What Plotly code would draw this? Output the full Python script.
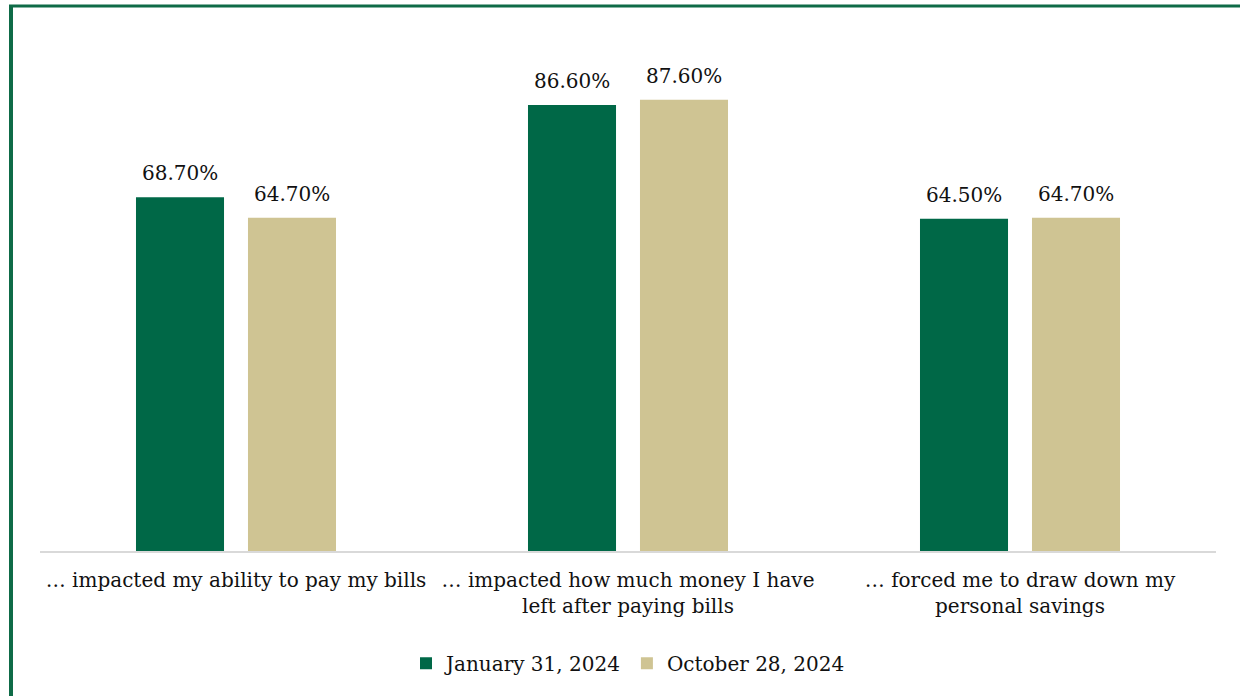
import plotly.graph_objects as go

categories = [
    "… impacted my ability to pay my bills",
    "… impacted how much money I have<br>left after paying bills",
    "… forced me to draw down my<br>personal savings",
]
series_names = ["January 31, 2024", "October 28, 2024"]
jan_values = [68.7, 86.6, 64.5]
oct_values = [64.7, 87.6, 64.7]

colors = ["#006847", "#CFC493"]
font_family = "DejaVu Serif, Liberation Serif, serif"

W, H = 1240, 696
ml, mr, mt, mb = 40, 24, 36, 145
pw, ph = W - ml - mr, H - mt - mb

fig = go.Figure()
series = [jan_values, oct_values]
for name, vals, col in zip(series_names, series, colors):
    fig.add_trace(go.Bar(
        x=categories, y=vals, name=name,
        marker=dict(color=col, line=dict(width=0)),
        cliponaxis=False,
    ))

# value labels above each bar (bars sit 56px either side of the category centre)
for i, vals in enumerate(series):
    shift = -56 if i == 0 else 56
    for cat, v in zip(categories, vals):
        fig.add_annotation(
            x=cat, y=v, text=f"{v:.2f}%", showarrow=False,
            xshift=shift, yshift=10, yanchor="bottom",
            font=dict(size=20, color="#111111", family=font_family),
        )

# frame lines along top and left edges of the page
def px_x(px):
    return (px - ml) / pw

def px_y(py):
    return (H - mb - py) / ph

fig.add_shape(type="line", xref="paper", yref="paper",
              x0=px_x(9), x1=px_x(1240), y0=px_y(6), y1=px_y(6),
              line=dict(color="#0E6B47", width=3))
fig.add_shape(type="line", xref="paper", yref="paper",
              x0=px_x(11), x1=px_x(11), y0=px_y(5), y1=px_y(700),
              line=dict(color="#0E6B47", width=4))

fig.update_layout(
    width=W, height=H,
    margin=dict(l=ml, r=mr, t=mt, b=mb),
    paper_bgcolor="white", plot_bgcolor="white",
    barmode="group", bargap=0.4286, bargroupgap=0.214,
    font=dict(family=font_family, size=20, color="#111111"),
    xaxis=dict(showline=True, linecolor="#d9d9d9", linewidth=2,
               ticks="", showgrid=False, tickfont=dict(size=20),
               ticklabelstandoff=10, fixedrange=True),
    yaxis=dict(range=[0, 100], visible=False, showgrid=False, fixedrange=True),
    legend=dict(orientation="h", x=0.5, xanchor="center", y=-0.18, yanchor="top",
                font=dict(size=20), itemsizing="constant", traceorder="normal",
                itemwidth=30),
    showlegend=True,
)

fig.write_html("out.html")
